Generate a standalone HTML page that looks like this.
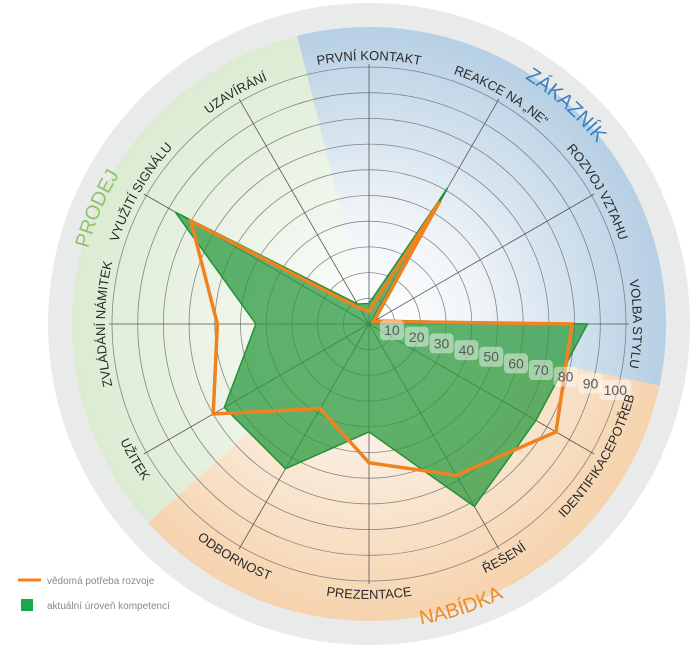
<!DOCTYPE html>
<html><head><meta charset="utf-8">
<style>
html,body{margin:0;padding:0;background:#fff;}
svg{display:block;font-family:"Liberation Sans",sans-serif;}
</style></head>
<body>
<svg id="chart" width="696" height="649" viewBox="0 0 696 649" xmlns="http://www.w3.org/2000/svg">
<defs>
<radialGradient id="gBlue" cx="369" cy="324" r="297" gradientUnits="userSpaceOnUse"><stop offset="0" stop-color="#ffffff"/><stop offset="0.35" stop-color="#f1f5f8"/><stop offset="1" stop-color="#b6cfe4"/></radialGradient>
<radialGradient id="gOrange" cx="369" cy="324" r="297" gradientUnits="userSpaceOnUse"><stop offset="0" stop-color="#ffffff"/><stop offset="0.35" stop-color="#fbf1e6"/><stop offset="1" stop-color="#f6d3ad"/></radialGradient>
<radialGradient id="gGreen" cx="369" cy="324" r="297" gradientUnits="userSpaceOnUse"><stop offset="0" stop-color="#ffffff"/><stop offset="0.35" stop-color="#f2f7ef"/><stop offset="1" stop-color="#dcebd2"/></radialGradient>
</defs>
<circle cx="369" cy="324" r="321" fill="#e9eaea"/>
<g id="sectors"></g>
<g id="grid"></g>
<g id="series"></g>
<g id="ticks"></g>
<g id="labels"></g>
<g>
  <line x1="18" y1="580" x2="41" y2="580" stroke="#f08220" stroke-width="3"/>
  <text x="47" y="584" font-size="10" fill="#888">vědomá potřeba rozvoje</text>
  <rect x="21" y="599" width="12" height="12" fill="#1aa84a"/>
  <text x="47" y="609" font-size="10" fill="#888">aktuální úroveň kompetencí</text>
</g>
</svg>
<script>
const categories = ["PRVNÍ KONTAKT","REAKCE NA „NE“","ROZVOJ VZTAHU","VOLBA STYLU","IDENTIFIKACEPOTŘEB","ŘEŠENÍ","PREZENTACE","ODBORNOST","UŽITEK","ZVLÁDÁNÍ NÁMITEK","VYUŽITÍ SIGNÁLU","UZAVÍRÁNÍ"];
const currentLevel = [8,61,3,85,75,82,42,65,65,44,87,9];
const developmentNeed = [5,55,2,79,84,68,54,38,70,59,80,7];
const tickValues = [10,20,30,40,50,60,70,80,90,100];
const tickLabels = ["10","20","30","40","50","60","70","80","90","100"];
const sectorNames = ["ZÁKAZNÍK","NABÍDKA","PRODEJ"];

const NS="http://www.w3.org/2000/svg";
const CX=369, CY=324, MAXV=100, RMAX=257;
function rScale(v){return v/MAXV*RMAX;}
function angleOf(i){return i*360/categories.length;}
function pt(angDeg,r){const a=angDeg*Math.PI/180;return [CX+r*Math.sin(a),CY-r*Math.cos(a)];}
function mk(tag,attrs,parent){const e=document.createElementNS(NS,tag);for(const k in attrs)e.setAttribute(k,attrs[k]);parent.appendChild(e);return e;}
const svg=document.getElementById('chart');
const defs=svg.querySelector('defs');

// sectors
const sec=document.getElementById('sectors');
const wedges=[[-14,102,'url(#gBlue)','sector-zakaznik'],[102,228,'url(#gOrange)','sector-nabidka'],[228,346,'url(#gGreen)','sector-prodej']];
wedges.forEach(w=>{
  const R=297;const p1=pt(w[0],R),p2=pt(w[1],R);
  const e=mk('path',{d:`M${CX},${CY} L${p1[0]},${p1[1]} A${R},${R} 0 0 1 ${p2[0]},${p2[1]} Z`,fill:w[2]},sec);
  
  
});

// grid
const grid=document.getElementById('grid');
tickValues.forEach(v=>{
  const c=mk('circle',{cx:CX,cy:CY,r:rScale(v),fill:'none',stroke:'#6b6b6b','stroke-width':0.8,'stroke-opacity':0.8},grid);
  
  
});
categories.forEach((c,i)=>{
  const p=pt(angleOf(i),260);
  const l=mk('line',{x1:CX,y1:CY,x2:p[0],y2:p[1],stroke:'#555','stroke-width':0.8},grid);
  
  
});

// series
const ser=document.getElementById('series');
function poly(vals){return vals.map((v,i)=>pt(angleOf(i),rScale(v)).join(',')).join(' ');}
const g=mk('polygon',{points:poly(currentLevel),fill:'#2b9a3f','fill-opacity':0.75,stroke:'#22913a','stroke-width':1.5,'stroke-linejoin':'miter'},ser);


const o=mk('polygon',{points:poly(developmentNeed),fill:'none',stroke:'#f08220','stroke-width':3.5,'stroke-linejoin':'miter'},ser);



// ticks
const tk=document.getElementById('ticks');
tickValues.forEach((v,i)=>{
  const p=pt(105,rScale(v)-2);
  const w=tickLabels[i].length*8+8;
  const r=mk('rect',{x:p[0]-w/2,y:p[1]-10,width:w,height:20,rx:4,fill:'#ffffff','fill-opacity':0.45},tk);
  
  
  const t=mk('text',{x:p[0],y:p[1]+5,'text-anchor':'middle','font-size':14,fill:'#5a5a5a'},tk);
  t.textContent=tickLabels[i];
  
  
});

// curved labels
const lab=document.getElementById('labels');
let pid=0;
function curved(text,ang,r,cw,size,color,name,span){
  span=span||70;
  let a1,a2,sweep;
  if(cw){a1=ang-span;a2=ang+span;sweep=1;}else{a1=ang+span;a2=ang-span;sweep=0;}
  const p1=pt(a1,r),p2=pt(a2,r);
  const id='lp'+(pid++);
  mk('path',{id:id,d:`M${p1[0]},${p1[1]} A${r},${r} 0 0 ${sweep} ${p2[0]},${p2[1]}`,fill:'none'},defs);
  const t=mk('text',{'font-size':size,fill:color},lab);
  
  
  const tp=mk('textPath',{href:'#'+id,startOffset:'50%','text-anchor':'middle'},t);
  tp.textContent=text;
}
categories.forEach((c,i)=>{
  const a=angleOf(i);
  const cw=!(a>=105&&a<=255);
  curved(c,a,cw?264:275,cw,13,'#2a2a2a','axis-label');
});
curved(sectorNames[0],42,291,true,20,'#3b80c0','sector-title-zakaznik');
curved(sectorNames[1],162,305,false,20,'#f08a22','sector-title-nabidka');
curved(sectorNames[2],293,291,true,20,'#8cc46c','sector-title-prodej');
</script>
</body></html>
